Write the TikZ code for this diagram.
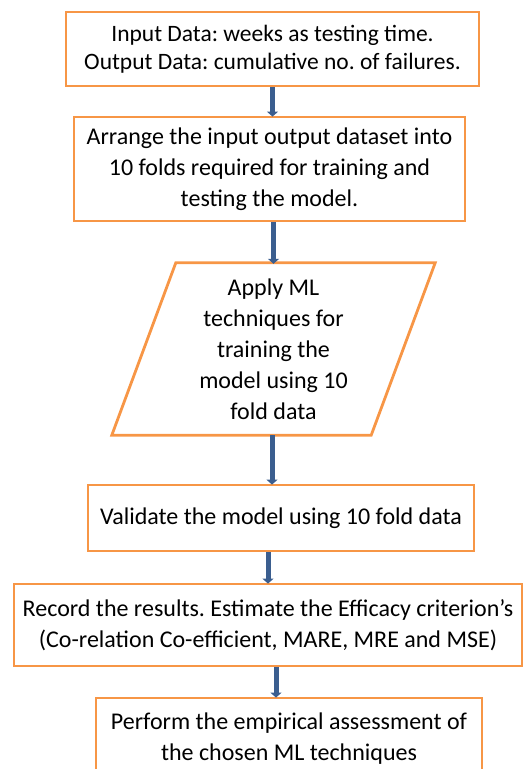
\documentclass[tikz,border=0pt]{standalone}
\usepackage{fontspec}
\setmainfont{Carlito}
\usetikzlibrary{arrows.meta,calc}
\definecolor{boxorange}{HTML}{F79646}
\definecolor{flowblue}{HTML}{3B5E8F}
\tikzset{
  stepbox/.style={draw=boxorange, line width=2.8pt, fill=white, align=center,
    inner sep=0pt, font=\fontsize{24}{31}\selectfont},
  flow/.style={draw=flowblue, line width=5pt,
    -{Triangle[width=11pt,length=5pt]}, shorten >=-1pt},
}
\frenchspacing
\begin{document}
\begin{tikzpicture}[x=1pt,y=-1pt]
\useasboundingbox (0,0) rectangle (529,769);
\clip (0,0) rectangle (529,769);

% process steps
\node[stepbox, minimum width=413pt, minimum height=74pt,
      font=\fontsize{23.5}{27.5}\selectfont] (b1) at (272.5,49)
  {Input Data: weeks as testing time.\\Output Data: cumulative no. of failures.};
\node[stepbox, minimum width=391pt, minimum height=104pt] (b2) at (269.5,169)
  {Arrange the input output dataset into\\10 folds required for training and\\testing the model.};

% input/output step drawn as a parallelogram around a plain text node
\node[align=center, inner sep=0pt, minimum width=323pt, minimum height=172pt,
      font=\fontsize{24}{31}\selectfont] (p) at (273.5,349)
  {Apply ML\\techniques for\\training the\\model using 10\\fold data};
\draw[boxorange, line width=2.8pt, line join=miter]
  ($(p.north west)+(64,0)$) -- (p.north east) -- ($(p.south east)+(-64,0)$)
  -- (p.south west) -- cycle;

\node[stepbox, minimum width=386pt, minimum height=66pt] (b4) at (281,518)
  {Validate the model using 10 fold data};
\node[stepbox, minimum width=508pt, minimum height=82pt] (b5) at (268,625)
  {Record the results. Estimate the Efficacy criterion’s\\(Co-relation Co-efficient, MARE, MRE and MSE)};
\node[stepbox, minimum width=386pt, minimum height=82pt] (b6) at (289,739)
  {Perform the empirical assessment of\\the chosen ML techniques};

% connectors
\draw[flow] (b1.south) -- (b2.north -| b1.south);
\draw[flow] (p.north |- b2.south) -- (p.north);
\draw[flow] ([xshift=-1.5pt]p.south) -- ([xshift=-1.5pt]p.south |- b4.north);
\draw[flow] (b5.north |- b4.south) -- (b5.north);
\draw[flow] ([xshift=8pt]b5.south) -- ([xshift=8pt]b5.south |- b6.north);
\end{tikzpicture}
\end{document}
